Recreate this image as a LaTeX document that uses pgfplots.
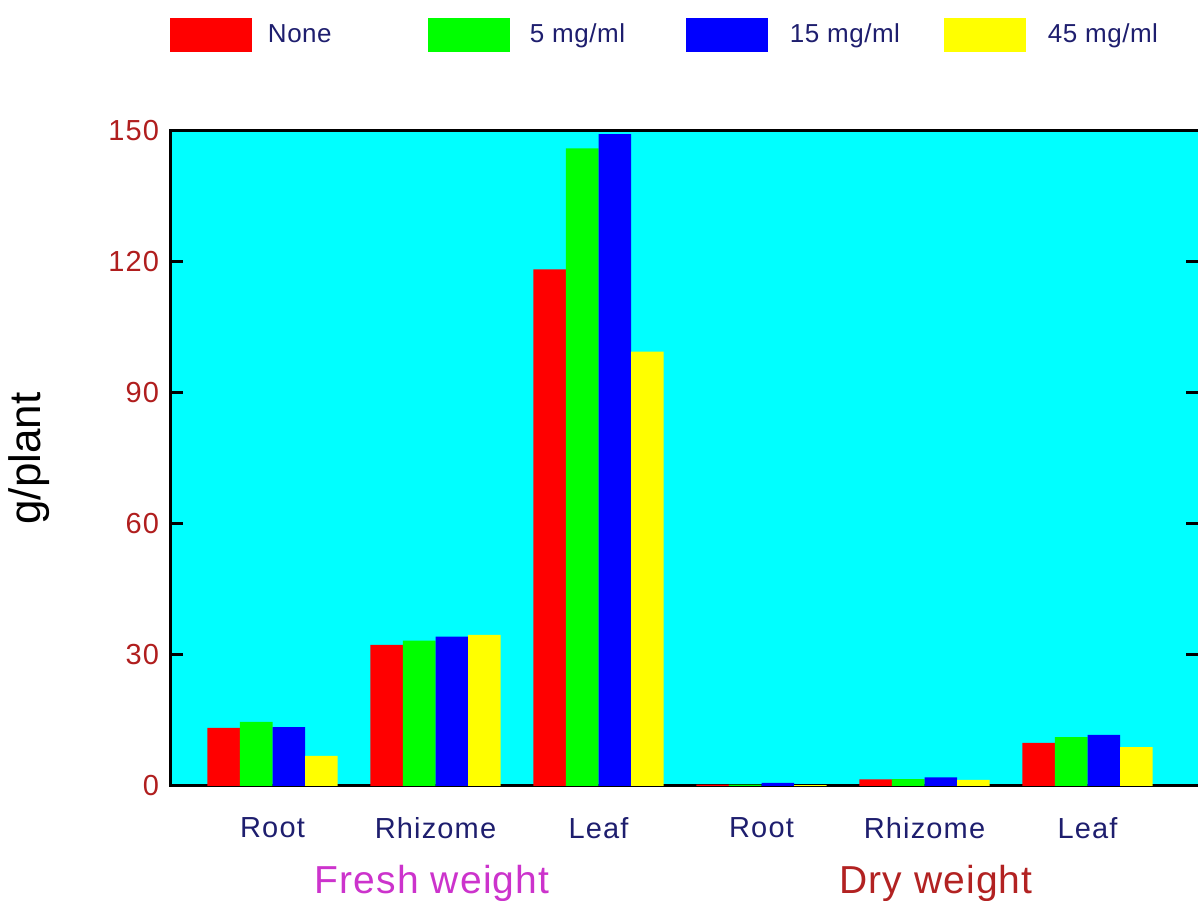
\documentclass[border=0pt]{standalone}
\usepackage{fontspec}
\setmainfont{Liberation Sans}
\newfontfamily\lab[LetterSpace=4]{Liberation Sans}
\newfontfamily\grp[LetterSpace=3]{Liberation Sans}
\newfontfamily\leg[LetterSpace=2]{Liberation Sans}
\usepackage{pgfplots}
\pgfplotsset{compat=1.18}

\definecolor{navy}{HTML}{1E1E6E}
\definecolor{tickred}{HTML}{B01E1E}
\definecolor{freshc}{HTML}{CC33CC}
\definecolor{dryc}{HTML}{B22222}
\definecolor{bgcyan}{RGB}{0,255,255}
\definecolor{cred}{RGB}{255,0,0}
\definecolor{cgreen}{RGB}{0,255,0}
\definecolor{cblue}{RGB}{0,0,255}
\definecolor{cyellow}{RGB}{255,255,0}

% fresh: root, rhizome, leaf; dry: root, rhizome, leaf
\pgfplotstableread{
x none five fifteen fortyfive
0 13.3 14.7 13.5 6.9
1 32.3 33.3 34.2 34.6
2 118.3 146.0 149.3 99.5
3 0.3 0.3 0.7 0.2
4 1.5 1.6 2.0 1.4
5 9.9 11.2 11.7 8.9
}\wdata

\newcommand{\legbox}[1]{\fill[#1] (0bp,-8.5bp) rectangle (41bp,8.5bp);}

\begin{document}
\begin{tikzpicture}
\useasboundingbox (0,0) rectangle (599bp,450.5bp);
\begin{axis}[
    at={(85bp,57.5bp)}, anchor=south west,
    scale only axis,
    width=514.5bp, height=327.5bp,
    xmin=-0.629, xmax=5.684,
    ymin=0, ymax=150,
    ytick={0,30,60,90,120,150},
    xtick={0,1,2,3,4,5},
    xticklabels={Root,Rhizome,Leaf,Root,Rhizome,Leaf},
    xtick style={draw=none},
    ytick style={line width=1.5bp, black},
    major tick length=6.5bp,
    tick align=inside,
    axis line style={line width=1.5bp, black},
    axis background/.style={fill=bgcyan},
    /pgf/number format/assume math mode=true,
    tick label style={font=\lab\fontsize{14.5bp}{16bp}\selectfont},
    xticklabel style={text=navy, anchor=center, yshift=-21bp},
    yticklabel style={text=tickred, anchor=east, xshift=-2bp},
    ylabel={g/plant},
    ylabel style={at={(rel axis cs:-0.137,0.5)}, anchor=center,
        font=\fontsize{22bp}{24bp}\selectfont},
    legend columns=4,
    legend style={draw=none, fill=none, inner sep=0pt, outer sep=0pt,
        at={(axis description cs:0,1)}, anchor=south west, yshift=39.5bp,
        /tikz/every even column/.append style={column sep=0pt},
        nodes={inner sep=0pt, text=navy,
            font=\leg\fontsize{13bp}{15bp}\selectfont}},
    clip=false,
]
\addplot[ybar, bar width=0.2, bar shift=-0.3, fill=cred, draw=none,
    legend image code/.code={\legbox{cred}}] table[x=x, y=none] {\wdata};
\addlegendentry{\makebox[88bp][l]{\hspace{8bp}None}}
\addplot[ybar, bar width=0.2, bar shift=-0.1, fill=cgreen, draw=none,
    legend image code/.code={\legbox{cgreen}}] table[x=x, y=five] {\wdata};
\addlegendentry{\makebox[88bp][l]{\hspace{10bp}5 mg/ml}}
\addplot[ybar, bar width=0.2, bar shift=0.1, fill=cblue, draw=none,
    legend image code/.code={\legbox{cblue}}] table[x=x, y=fifteen] {\wdata};
\addlegendentry{\makebox[88bp][l]{\hspace{11bp}15 mg/ml}}
\addplot[ybar, bar width=0.2, bar shift=0.3, fill=cyellow, draw=none,
    legend image code/.code={\legbox{cyellow}}] table[x=x, y=fortyfive] {\wdata};
\addlegendentry{\makebox[88bp][l]{\hspace{11bp}45 mg/ml}}

\node[text=freshc, font=\grp\fontsize{19.5bp}{21bp}\selectfont]
    at ([yshift=-48.5bp]axis cs:0.979,0) {Fresh weight};
\node[text=dryc, font=\grp\fontsize{19.5bp}{21bp}\selectfont]
    at ([yshift=-48.5bp]axis cs:4.07,0) {Dry weight};
\end{axis}
\end{tikzpicture}
\end{document}
